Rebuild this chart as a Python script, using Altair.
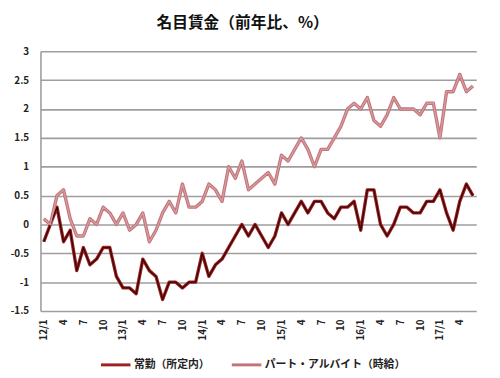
import altair as alt
import pandas as pd

# monthly categories 2012/1 .. 2017/6
months = [f"{yy}/{mm}" for yy in range(12, 18) for mm in range(1, 13)][:66]

regular = [-0.3, 0.0, 0.3, -0.3, -0.1, -0.8, -0.4, -0.7, -0.6, -0.4, -0.4, -0.9,
           -1.1, -1.1, -1.2, -0.6, -0.8, -0.9, -1.3, -1.0, -1.0, -1.1, -1.0, -1.0,
           -0.5, -0.9, -0.7, -0.6, -0.4, -0.2, 0.0, -0.2, 0.0, -0.2, -0.4, -0.2,
           0.2, 0.0, 0.2, 0.4, 0.2, 0.4, 0.4, 0.2, 0.1, 0.3, 0.3, 0.4,
           -0.1, 0.6, 0.6, 0.0, -0.2, 0.0, 0.3, 0.3, 0.2, 0.2, 0.4, 0.4,
           0.6, 0.2, -0.1, 0.4, 0.7, 0.5]

part = [0.1, 0.0, 0.5, 0.6, 0.1, -0.2, -0.2, 0.1, 0.0, 0.3, 0.2, 0.0,
        0.2, -0.1, 0.0, 0.2, -0.3, -0.1, 0.2, 0.4, 0.2, 0.7, 0.3, 0.3,
        0.4, 0.7, 0.6, 0.4, 1.0, 0.8, 1.1, 0.6, 0.7, 0.8, 0.9, 0.7,
        1.2, 1.1, 1.3, 1.5, 1.3, 1.0, 1.3, 1.3, 1.5, 1.7, 2.0, 2.1,
        2.0, 2.2, 1.8, 1.7, 1.9, 2.2, 2.0, 2.0, 2.0, 1.9, 2.1, 2.1,
        1.5, 2.3, 2.3, 2.6, 2.3, 2.4]

series_names = ["常勤（所定内）", "パート・アルバイト（時給）"]
outer_colors = ["#9e2222", "#c27479"]
inner_colors = ["#3a0505", "#d69ca0"]
tick_months = months[::3]
y_ticks = [-1.5, -1.0, -0.5, 0.0, 0.5, 1.0, 1.5, 2.0, 2.5, 3.0]
title_text = "名目賃金（前年比、%）"

df = pd.DataFrame({
    "month": months * 2,
    "value": regular + part,
    "series": [series_names[0]] * len(regular) + [series_names[1]] * len(part),
})

FONT = "Noto Sans CJK JP"

x_enc = alt.X(
    "month:O", sort=months,
    scale=alt.Scale(type="point", padding=0.5),
    axis=alt.Axis(
        values=tick_months, labelAngle=270, title=None, ticks=False, domain=False,
        grid=False, labelFontWeight="bold", labelFontSize=10, labelPadding=8,
        labelFont=FONT, labelColor="#222222",
        labelExpr="split(datum.value, '/')[1] == '1' ? datum.value : split(datum.value, '/')[1]",
    ),
)
y_enc = alt.Y(
    "value:Q",
    scale=alt.Scale(domain=[-1.5, 3], nice=False),
    axis=alt.Axis(
        values=y_ticks, title=None, ticks=False, labelPadding=12,
        labelExpr="datum.value + ''", labelFontWeight="bold", labelFontSize=10,
        labelFont=FONT, labelColor="#222222",
        gridColor="#9e9e9e", gridWidth=1.6, domainColor="#9e9e9e", domainWidth=1.6,
    ),
)

outer = alt.Chart(df).mark_line(strokeWidth=3.4, strokeJoin="round").encode(
    x=x_enc, y=y_enc,
    color=alt.Color(
        "series:N", sort=series_names,
        scale=alt.Scale(domain=series_names, range=outer_colors),
        legend=alt.Legend(
            title=None, orient="none", legendX=60, legendY=302, direction="horizontal",
            symbolType="stroke", symbolSize=900, symbolStrokeWidth=3,
            labelFontSize=11, labelFontWeight="bold", labelFont=FONT,
            labelColor="#222222", columnPadding=16, labelOffset=2, labelLimit=300,
        ),
    ),
)

inner = alt.Chart(df).mark_line(strokeWidth=1.3, strokeJoin="round").encode(
    x=x_enc, y=y_enc,
    color=alt.Color(
        "series:N", sort=series_names,
        scale=alt.Scale(domain=series_names, range=inner_colors),
        legend=None,
    ),
)

chart = alt.layer(outer, inner).resolve_scale(color="independent").properties(
    width=443, height=264,
    autosize=alt.AutoSizeParams(type="none"),
    padding={"left": 33, "top": 41, "right": 16, "bottom": 62},
    title=alt.TitleParams(
        text=title_text, fontSize=16, fontWeight="bold", font=FONT,
        anchor="middle", dx=-16, offset=16, color="#111111",
    ),
).configure_view(stroke=None)

chart.save("out.html", embed_options={"renderer": "svg", "actions": False})
